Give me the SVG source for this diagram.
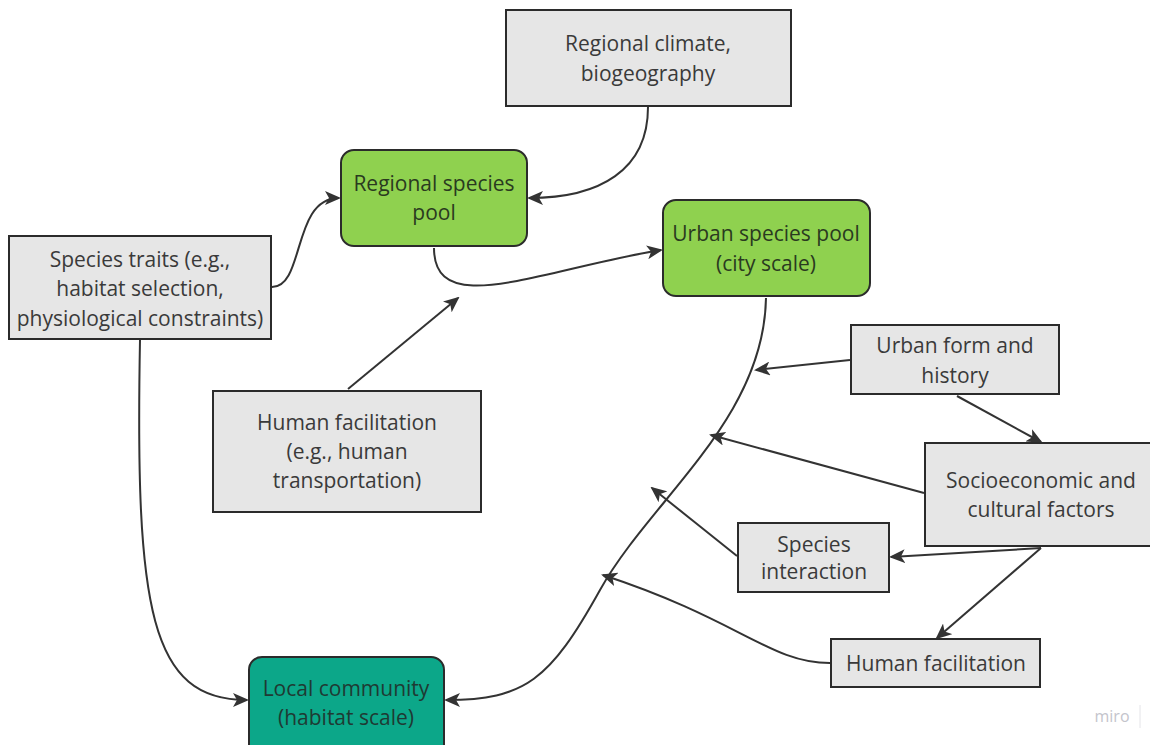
<svg xmlns="http://www.w3.org/2000/svg" width="1150" height="745" viewBox="0 0 1150 745">
<defs>
<style>
.box{fill:#e6e6e6;stroke:#2b2b2b;stroke-width:2}
.green{fill:#8fd14f;stroke:#2b2b2b;stroke-width:2}
.teal{fill:#0ca789;stroke:#2b2b2b;stroke-width:2}
.t{font-family:"Open Sans","Liberation Sans",sans-serif;font-size:21px;fill:#3a3a3a;text-anchor:middle}
.tg{fill:#2a3a1f}
.tt{fill:#1f3a33}
.c{fill:none;stroke:#333;stroke-width:2;marker-end:url(#ah)}
</style>
<marker id="ah" viewBox="0 0 16 14" markerWidth="16" markerHeight="14" refX="14" refY="7" orient="auto" markerUnits="userSpaceOnUse">
<path d="M0,0 L16,7 L0,14 L4,7 z" fill="#333"/>
</marker>
</defs>
<rect width="1150" height="745" fill="#ffffff"/>
<g id="connectors">
<path class="c" d="M648,107 C648,170 600,198 529,198"/>
<path class="c" d="M272,287 C305,287 292,198 339,198"/>
<path class="c" d="M434,248 C434,320 540,270 661,250"/>
<path class="c" d="M348,389 L458,298"/>
<path class="c" d="M140,340 C135,610 150,700 247,700"/>
<path class="c" d="M766,298 C764,420 650,500 600,590 S525,700 446,700"/>
<path class="c" d="M850,360 L756,370"/>
<path class="c" d="M957,396 L1041,442"/>
<path class="c" d="M924,493 L711,435"/>
<path class="c" d="M1041,548 L891,557"/>
<path class="c" d="M1041,548 L937,638"/>
<path class="c" d="M737,556 L652,488"/>
<path class="c" d="M830,663 C770,663 740,620 603,575"/>
</g>
<g id="regional-climate">
<rect class="box" x="506" y="10" width="285" height="96"/>
<text class="t" x="648" y="51">Regional climate,</text>
<text class="t" x="648" y="81">biogeography</text>
</g>
<g id="regional-species-pool">
<rect class="green" x="341" y="150" width="186" height="96" rx="13"/>
<text class="t tg" x="434" y="191">Regional species</text>
<text class="t tg" x="434" y="220">pool</text>
</g>
<g id="urban-species-pool">
<rect class="green" x="663" y="200" width="207" height="96" rx="13"/>
<text class="t tg" x="766" y="241">Urban species pool</text>
<text class="t tg" x="766" y="271">(city scale)</text>
</g>
<g id="species-traits">
<rect class="box" x="9" y="236" width="262" height="103"/>
<text class="t" x="140" y="267">Species traits (e.g.,</text>
<text class="t" x="140" y="296">habitat selection,</text>
<text class="t" x="140" y="326">physiological constraints)</text>
</g>
<g id="human-facilitation-transport">
<rect class="box" x="213" y="391" width="268" height="121"/>
<text class="t" x="347" y="430">Human facilitation</text>
<text class="t" x="347" y="459">(e.g., human</text>
<text class="t" x="347" y="488">transportation)</text>
</g>
<g id="urban-form">
<rect class="box" x="851" y="325" width="208" height="69"/>
<text class="t" x="955" y="353">Urban form and</text>
<text class="t" x="955" y="383">history</text>
</g>
<g id="socioeconomic">
<rect class="box" x="925" y="443" width="226" height="103"/>
<text class="t" x="1041" y="488">Socioeconomic and</text>
<text class="t" x="1041" y="517">cultural factors</text>
</g>
<g id="species-interaction">
<rect class="box" x="738" y="523" width="151" height="69"/>
<text class="t" x="814" y="552">Species</text>
<text class="t" x="814" y="579">interaction</text>
</g>
<g id="human-facilitation">
<rect class="box" x="831" y="639" width="209" height="48"/>
<text class="t" x="936" y="671">Human facilitation</text>
</g>
<g id="local-community">
<rect class="teal" x="249" y="657" width="195" height="100" rx="13"/>
<text class="t tt" x="346" y="696">Local community</text>
<text class="t tt" x="346" y="725">(habitat scale)</text>
</g>
<g id="watermark">
<text x="1112" y="722" font-family="'Open Sans','Liberation Sans',sans-serif" font-size="16" fill="#c4c4cc" text-anchor="middle">miro</text>
<line x1="1140" y1="705" x2="1140" y2="728" stroke="#e4e4e8" stroke-width="1"/>
</g>
</svg>
